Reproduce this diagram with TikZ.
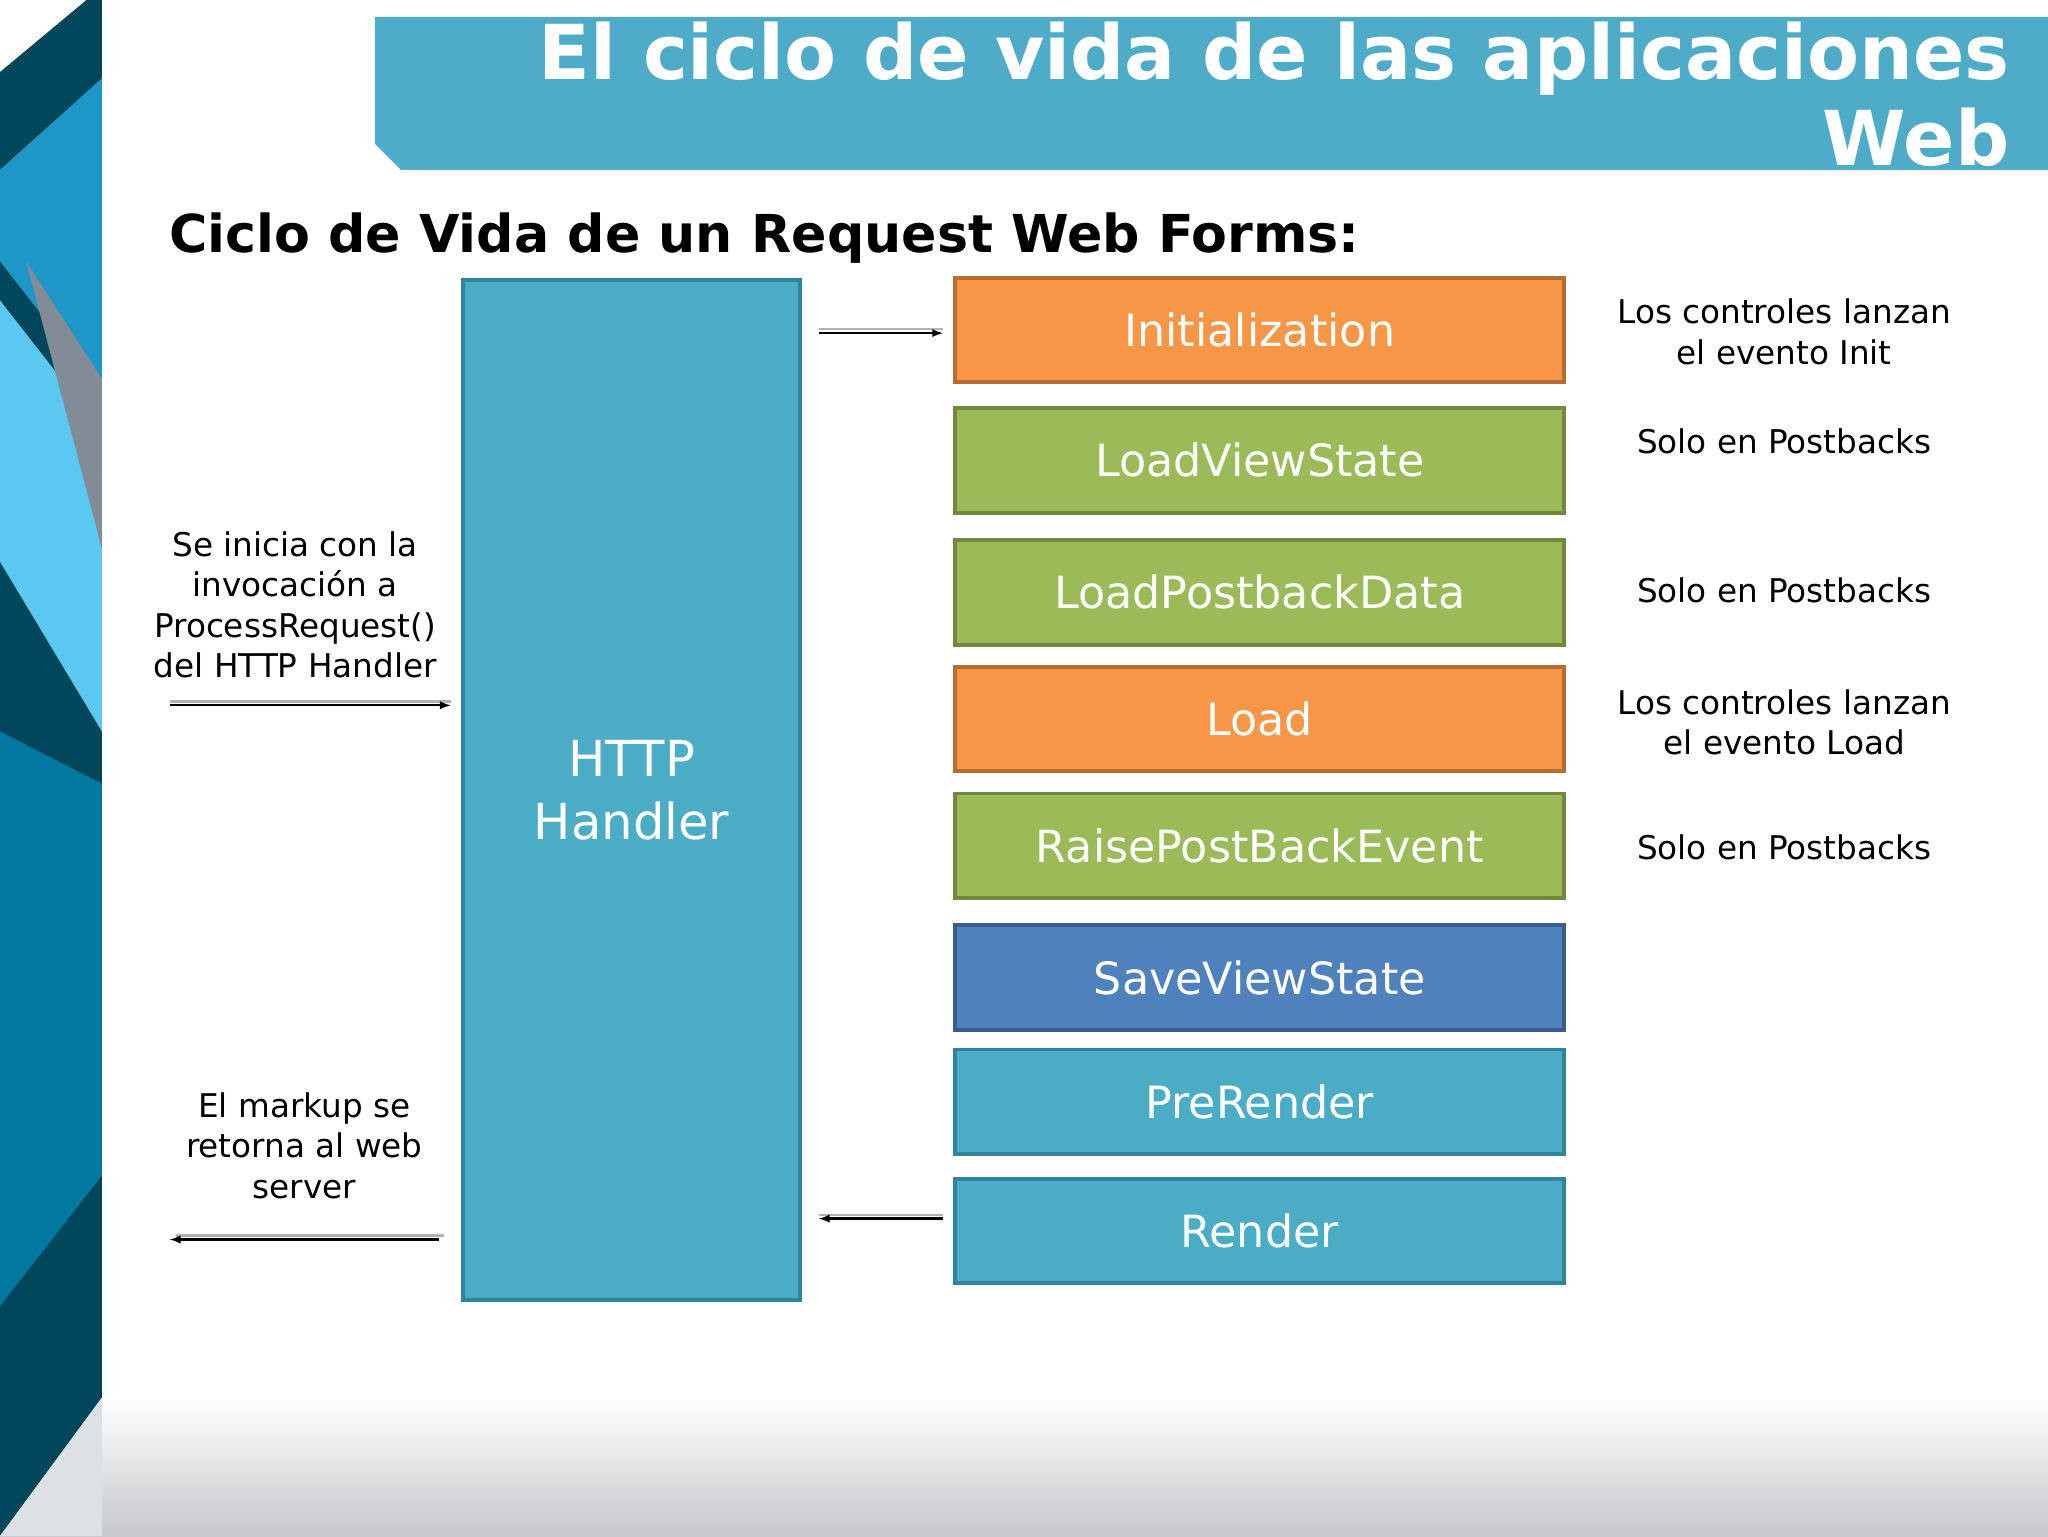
\documentclass[tikz,border=0pt]{standalone}
\usepackage{fontspec}
\setmainfont{DejaVu Sans}
\definecolor{teal1}{RGB}{75,172,198}
\definecolor{orf}{RGB}{247,150,70}
\definecolor{ord}{RGB}{182,109,49}
\definecolor{grf}{RGB}{155,187,89}
\definecolor{grd}{RGB}{113,137,63}
\definecolor{blf}{RGB}{79,129,189}
\definecolor{bld}{RGB}{56,93,138}
\definecolor{tdk}{RGB}{49,132,155}
\definecolor{bandg}{RGB}{200,200,205}
\definecolor{dk1}{RGB}{0,70,90}
\definecolor{dk2}{RGB}{30,150,200}
\definecolor{dk3}{RGB}{90,200,240}
\definecolor{dk4}{RGB}{130,140,150}
\definecolor{dk5}{RGB}{0,120,160}
\definecolor{lg}{RGB}{220,225,230}
\definecolor{titlec}{RGB}{78,172,200}
\begin{document}
\begin{tikzpicture}[x=1pt,y=-1pt,
  stage/.style={minimum width=466pt,minimum height=80pt,line width=3pt,text=white,font=\fontsize{34}{40}\selectfont,anchor=north west,inner sep=0pt},
  orangebox/.style={stage,fill=orf,draw=ord},
  greenbox/.style={stage,fill=grf,draw=grd},
  bluebox/.style={stage,fill=blf,draw=bld},
  tealbox/.style={stage,fill=teal1,draw=tdk},
  note/.style={font=\fontsize{25}{31}\selectfont,align=center},
  arr/.style={-latex,line width=1.8pt}]
\useasboundingbox (0,0) rectangle (1568,1176);
\fill[white] (0,0) rectangle (1568,1176);
\shade[top color=white,bottom color=bandg] (0,1070) rectangle (1568,1176);
\fill[dk1] (0,0) -- (78,0) -- (78,1070) -- (0,1176) -- cycle;
\fill[dk2] (0,130) -- (78,60) -- (78,300) -- (0,200) -- cycle;
\fill[dk3] (0,230) -- (78,330) -- (78,560) -- (0,430) -- cycle;
\fill[dk4] (20,200) -- (78,290) -- (78,420) -- cycle;
\fill[dk5] (0,560) -- (78,600) -- (78,900) -- (0,1000) -- cycle;
\fill[white] (0,0) -- (66,0) -- (0,55) -- cycle;
\fill[lg] (78,1070) -- (0,1176) -- (78,1176) -- cycle;
\fill[titlec] (287,13) -- (1568,13) -- (1568,130) -- (307,130) -- (287,110) -- cycle;
\node[anchor=east,text=white,font=\bfseries\fontsize{58}{66}\selectfont,align=right] (title) at (1542,72) {El ciclo de vida de las aplicaciones\\Web};
\node[anchor=west,font=\bfseries\fontsize{40}{46}\selectfont] (sub) at (126,182) {Ciclo de Vida de un Request Web Forms:};
\node[draw=tdk,fill=teal1,line width=3pt,minimum width=258pt,minimum height=781pt,anchor=north west,inner sep=0pt,text=white,font=\fontsize{38}{48}\selectfont,align=center] (h) at (353,213) {HTTP\\Handler};
\node[orangebox] (s1) at (730,211) {Initialization};
\node[greenbox] (s2) at (730,311) {LoadViewState};
\node[greenbox] (s3) at (730,412) {LoadPostbackData};
\node[orangebox] (s4) at (730,509) {Load};
\node[greenbox] (s5) at (730,606) {RaisePostBackEvent};
\node[bluebox] (s6) at (730,707) {SaveViewState};
\node[tealbox] (s7) at (730,802) {PreRender};
\node[tealbox] (s8) at (730,901) {Render};
\node[note] (n1) at (1366,254) {Los controles lanzan\\el evento Init};
\node[note] (n2) at (1366,338) {Solo en Postbacks};
\node[note] (n3) at (1366,452) {Solo en Postbacks};
\node[note] (n4) at (1366,553) {Los controles lanzan\\el evento Load};
\node[note] (n5) at (1366,649) {Solo en Postbacks};
\node[note] (l1) at (226,463) {Se inicia con la\\invocación a\\ProcessRequest()\\del HTTP Handler};
\node[note] (l2) at (233,877) {El markup se\\retorna al web\\server};
\coordinate (a1) at (627,255); \coordinate (a2) at (130,540);
\coordinate (a3) at (336,949); \coordinate (a4) at (627,933);
\coordinate (b1) at (722,255); \coordinate (b2) at (345,540);
\coordinate (b3) at (130,949); \coordinate (b4) at (722,933);
\draw[gray!60,line width=1.8pt] ([yshift=3]a1) -- ([yshift=3]b1);
\draw[arr] (a1) -- (b1);
\draw[gray!60,line width=1.8pt] ([yshift=3]a2) -- ([yshift=3]b2);
\draw[arr] (a2) -- (b2);
\draw[gray!60,line width=1.8pt] ([yshift=3]b4) -- ([yshift=3]a4);
\draw[arr] (b4) -- (a4);
\draw[gray!60,line width=1.8pt] ([yshift=3,xshift=4]a3) -- ([yshift=3,xshift=5]b3);
\draw[arr] (a3) -- (b3);
\end{tikzpicture}
\end{document}
